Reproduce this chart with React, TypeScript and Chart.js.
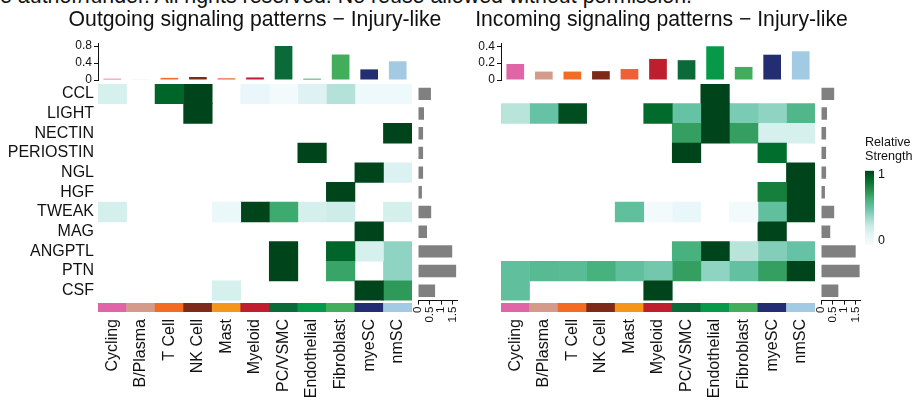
import React, { useEffect, useRef } from "react";
import { Chart, registerables } from "chart.js";

Chart.register(...registerables);

const FONT = '"Liberation Sans", Arial, Helvetica, sans-serif';
Chart.defaults.font.family = FONT;
Chart.defaults.color = "#111";

// ---------------- data ----------------
const cellTypes = ["Cycling", "B/Plasma", "T Cell", "NK Cell", "Mast", "Myeloid", "PC/VSMC", "Endothelial", "Fibroblast", "myeSC", "nmSC"];
const pathways = ["CCL", "LIGHT", "NECTIN", "PERIOSTIN", "NGL", "HGF", "TWEAK", "MAG", "ANGPTL", "PTN", "CSF"];
const cellColors = ["#E065A6", "#D49A8A", "#F26C24", "#7E2A19", "#F4961A", "#BE1E2D", "#0B6B38", "#069A48", "#42AD5B", "#232E72", "#A2CAE2"];
const topBarColors = ["#E065A6", "#D49A8A", "#F26C24", "#7E2A19", "#F15F36", "#BE1E2D", "#0B6B38", "#069A48", "#42AD5B", "#232E72", "#A2CAE2"];

const outgoingTotals = [0.03, 0.01, 0.05, 0.07, 0.04, 0.06, 0.8, 0.03, 0.6, 0.25, 0.44];
const incomingTotals = [0.19, 0.1, 0.1, 0.105, 0.13, 0.25, 0.235, 0.4, 0.155, 0.3, 0.34];

const outgoingPathwayTotals = [0.56, 0.26, 0.22, 0.22, 0.22, 0.17, 0.57, 0.39, 1.48, 1.65, 0.74];
const incomingPathwayTotals = [0.57, 0.26, 0.22, 0.22, 0.22, 0.17, 0.57, 0.4, 1.5, 1.67, 0.75];

// rows = pathways, columns = cell types (relative strength, 0 = none)
const outgoingStrength = [
  [0.2, 0, 0.9, 1, 0, 0.09, 0.03, 0.16, 0.31, 0.06, 0.06],
  [0, 0, 0, 1, 0, 0, 0, 0, 0, 0, 0],
  [0, 0, 0, 0, 0, 0, 0, 0, 0, 0, 1],
  [0, 0, 0, 0, 0, 0, 0, 1, 0, 0, 0],
  [0, 0, 0, 0, 0, 0, 0, 0, 0, 1, 0.17],
  [0, 0, 0, 0, 0, 0, 0, 0, 1, 0, 0],
  [0.21, 0, 0, 0, 0.08, 1, 0.64, 0.21, 0.24, 0, 0.21],
  [0, 0, 0, 0, 0, 0, 0, 0, 0, 1, 0],
  [0, 0, 0, 0, 0, 0, 1, 0, 0.9, 0.2, 0.4],
  [0, 0, 0, 0, 0, 0, 1, 0, 0.66, 0, 0.4],
  [0, 0, 0, 0, 0.2, 0, 0, 0, 0, 1, 0.7],
];
const incomingStrength = [
  [0, 0, 0, 0, 0, 0, 0, 1, 0, 0, 0],
  [0.3, 0.5, 0.97, 0, 0, 0.88, 0.5, 1, 0.45, 0.4, 0.57],
  [0, 0, 0, 0, 0, 0, 0.68, 1, 0.68, 0.2, 0.2],
  [0, 0, 0, 0, 0, 0, 1, 0, 0, 0.87, 0],
  [0, 0, 0, 0, 0, 0, 0, 0, 0, 0, 1],
  [0, 0, 0, 0, 0, 0, 0, 0, 0, 0.8, 1],
  [0, 0, 0, 0, 0.52, 0.03, 0.1, 0, 0.03, 0.52, 1],
  [0, 0, 0, 0, 0, 0, 0, 0, 0, 1, 0],
  [0, 0, 0, 0, 0, 0, 0.6, 1, 0.3, 0.43, 0.5],
  [0.52, 0.55, 0.54, 0.6, 0.52, 0.47, 0.68, 0.4, 0.51, 0.68, 1],
  [0.52, 0, 0, 0, 0, 1, 0, 0, 0, 0, 0],
];

const outgoingTopTicks = [0, 0.4, 0.8];
const incomingTopTicks = [0, 0.2, 0.4];
const rowBarTicks = [0, 0.5, 1, 1.5];
const legendTickLabels = ["0", "1"];

const outgoingTitle = "Outgoing signaling patterns \u2212 Injury-like";
const incomingTitle = "Incoming signaling patterns \u2212 Injury-like";
const watermark = "the author/funder. All rights reserved. No reuse allowed without permission.";

// ---------------- colour map ----------------
const BUGN = ["#F7FCFD", "#E5F5F9", "#CCECE6", "#99D8C9", "#66C2A4", "#41AE76", "#238B45", "#006D2C", "#00441B"];
function hexRgb(h: string) {
  return [parseInt(h.slice(1, 3), 16), parseInt(h.slice(3, 5), 16), parseInt(h.slice(5, 7), 16)];
}
function strengthColor(v: number) {
  if (!v) return "rgba(255,255,255,0)";
  const t = Math.min(1, Math.max(0, v)) * (BUGN.length - 1);
  const i = Math.min(Math.floor(t), BUGN.length - 2);
  const f = t - i;
  const a = hexRgb(BUGN[i]);
  const b = hexRgb(BUGN[i + 1]);
  const c = a.map((x, k) => Math.round(x + (b[k] - x) * f));
  return `rgb(${c[0]},${c[1]},${c[2]})`;
}

// ---------------- helpers ----------------
const fixWidth = (w: number) => (s: any) => {
  s.width = w;
  s.paddingTop = 0;
  s.paddingBottom = 0;
  s.paddingLeft = 0;
  s.paddingRight = 0;
};
const fixHeight = (h: number) => (s: any) => {
  s.height = h;
  s.paddingTop = 0;
  s.paddingBottom = 0;
  s.paddingLeft = 0;
  s.paddingRight = 0;
};
const setTicks = (vals: number[]) => (s: any) => {
  s.ticks = vals.map((value) => ({ value }));
};
const noPlugins = { legend: { display: false }, tooltip: { enabled: false } };

function ChartCanvas({ left, top, width, height, make }: any) {
  const ref = useRef<HTMLCanvasElement>(null);
  useEffect(() => {
    const chart = new Chart(ref.current as HTMLCanvasElement, make());
    return () => chart.destroy();
  }, []);
  return (
    <canvas
      ref={ref}
      width={width}
      height={height}
      style={{ position: "absolute", left, top, width, height }}
    />
  );
}

// ---------------- chart configs ----------------
const TITLE_SIZE = 21.2;

function topBarsConfig(title: string, totals: number[], max: number, ticks: number[], shift: number): any {
  return {
    type: "bar",
    data: {
      labels: cellTypes,
      datasets: [
        {
          data: totals,
          backgroundColor: topBarColors,
          borderWidth: 0,
          barPercentage: 0.62,
          categoryPercentage: 1,
        },
      ],
    },
    options: {
      responsive: false,
      animation: false,
      layout: { padding: { left: 0, right: 0, top: 0, bottom: 4 } },
      plugins: {
        ...noPlugins,
        title: {
          display: true,
          text: title,
          color: "#111",
          font: { size: TITLE_SIZE, weight: "normal", lineHeight: 22.2 / TITLE_SIZE },
          padding: { top: 9.0, bottom: 12.7 },
        },
      },
      scales: {
        x: { display: false },
        y: {
          min: 0,
          max,
          afterBuildTicks: setTicks(ticks),
          afterFit: fixWidth(43),
          ticks: { font: { size: 12 }, color: "#111", padding: 2 },
          grid: { drawOnChartArea: false, drawTicks: true, tickLength: 4, color: "#111" },
          border: { display: true, color: "#111", width: 1 },
        },
        // empty spacer on the right so that the title is centred over the heatmap
        spacer: {
          type: "linear",
          position: "right",
          afterFit: fixWidth(43 + 2 * shift),
          ticks: { display: false },
          grid: { display: false, drawTicks: false },
          border: { display: false },
        },
      },
    },
  };
}

function heatmapConfig(matrix: number[][], showLabels: boolean): any {
  return {
    type: "bar",
    data: {
      labels: pathways,
      datasets: cellTypes.map((ct, j) => ({
        label: ct,
        data: pathways.map(() => 1),
        backgroundColor: matrix.map((row) => strengthColor(row[j])),
        borderWidth: 0,
        barPercentage: 1,
        categoryPercentage: 1,
      })),
    },
    options: {
      indexAxis: "y",
      responsive: false,
      animation: false,
      layout: { padding: { left: 0, right: 3, top: 4, bottom: 4.4 } },
      plugins: noPlugins,
      scales: {
        x: { stacked: true, min: 0, max: cellTypes.length, display: false },
        y: {
          stacked: true,
          afterFit: fixWidth(98),
          grid: { display: false, drawTicks: false },
          border: { display: false },
          ticks: { display: showLabels, font: { size: 16 }, color: "#111", padding: 4, autoSkip: false },
        },
      },
    },
  };
}

function stripConfig(): any {
  return {
    type: "bar",
    data: {
      labels: cellTypes,
      datasets: [
        {
          data: cellTypes.map(() => 1),
          backgroundColor: cellColors,
          borderWidth: 0,
          barPercentage: 1,
          categoryPercentage: 1,
        },
      ],
    },
    options: {
      responsive: false,
      animation: false,
      layout: { padding: { left: 98, right: 3, top: 5, bottom: 0 } },
      plugins: noPlugins,
      scales: {
        y: { display: false, min: 0, max: 1 },
        x: {
          afterFit: fixHeight(90),
          grid: { display: false, drawTicks: false },
          border: { display: false },
          ticks: { font: { size: 16 }, color: "#111", padding: 7, minRotation: 90, maxRotation: 90, autoSkip: false },
        },
      },
    },
  };
}

function rowBarsConfig(totals: number[]): any {
  return {
    type: "bar",
    data: {
      labels: pathways,
      datasets: [
        {
          data: totals,
          backgroundColor: "#808080",
          borderWidth: 0,
          barPercentage: 0.63,
          categoryPercentage: 1,
        },
      ],
    },
    options: {
      indexAxis: "y",
      responsive: false,
      animation: false,
      layout: { padding: { left: 6, right: 14.7, top: 4, bottom: 0 } },
      plugins: noPlugins,
      scales: {
        y: { display: false },
        x: {
          min: 0,
          max: 1.7,
          position: "bottom",
          afterBuildTicks: setTicks(rowBarTicks),
          afterFit: fixHeight(101.4),
          ticks: {
            font: { size: 11.5 },
            color: "#111",
            padding: 2,
            minRotation: 90,
            maxRotation: 90,
            autoSkip: false,
            callback: (v: number) => String(v),
          },
          grid: { drawOnChartArea: false, drawTicks: true, tickLength: 4, color: "#111" },
          border: { display: true, color: "#111", width: 1 },
        },
      },
    },
  };
}

function legendConfig(): any {
  return {
    type: "bar",
    data: {
      labels: [""],
      datasets: [
        {
          data: [1],
          borderWidth: 0,
          barPercentage: 1,
          categoryPercentage: 1,
          backgroundColor: (ctx: any) => {
            const { chart } = ctx;
            const area = chart.chartArea;
            if (!area) return BUGN[4];
            const g = chart.ctx.createLinearGradient(0, area.bottom, 0, area.top);
            BUGN.forEach((c, i) => g.addColorStop(i / (BUGN.length - 1), c));
            return g;
          },
        },
      ],
    },
    options: {
      responsive: false,
      animation: false,
      layout: { padding: { left: 5, right: 0, top: 0, bottom: 10 } },
      plugins: {
        ...noPlugins,
        title: {
          display: true,
          text: ["Relative", "Strength"],
          align: "start",
          color: "#111",
          font: { size: 12.6, weight: "normal", lineHeight: 14 / 12.6 },
          padding: { top: 5.4, bottom: 7.3 },
        },
      },
      scales: {
        x: { display: false },
        y: {
          position: "right",
          min: 0,
          max: 1,
          afterBuildTicks: setTicks([0.057, 0.942]),
          afterFit: fixWidth(49),
          ticks: {
            font: { size: 12.5 },
            color: "#111",
            padding: 4,
            callback: (v: number) => (v < 0.5 ? legendTickLabels[0] : legendTickLabels[1]),
          },
          grid: { display: false, drawTicks: false },
          border: { display: false },
        },
      },
    },
  };
}

function Panel({ ox, title, totals, max, ticks, matrix, rowTotals, showLabels, shift }: any) {
  return (
    <>
      <ChartCanvas
        left={ox + 55}
        top={0}
        width={400 + 2 * shift}
        height={84}
        make={() => topBarsConfig(title, totals, max, ticks, shift)}
      />
      <ChartCanvas left={ox} top={80} width={415} height={225} make={() => heatmapConfig(matrix, showLabels)} />
      <ChartCanvas left={ox} top={298} width={415} height={104} make={() => stripConfig()} />
      <ChartCanvas left={ox + 412} top={80} width={60} height={322} make={() => rowBarsConfig(rowTotals)} />
    </>
  );
}

export default function App() {
  return (
    <div
      style={{
        position: "absolute",
        left: 0,
        top: 0,
        width: 923,
        height: 402,
        overflow: "hidden",
        background: "#fff",
        fontFamily: FONT,
      }}
    >
      <div
        style={{
          position: "absolute",
          right: 231,
          top: -14.5,
          fontSize: 21.4,
          lineHeight: "21.4px",
          whiteSpace: "nowrap",
          color: "#111",
        }}
      >
        {watermark}
      </div>
      <Panel
        ox={0}
        title={outgoingTitle}
        totals={outgoingTotals}
        max={0.85}
        ticks={outgoingTopTicks}
        matrix={outgoingStrength}
        rowTotals={outgoingPathwayTotals}
        showLabels={true}
        shift={0}
      />
      <Panel
        ox={403}
        title={incomingTitle}
        totals={incomingTotals}
        max={0.428}
        ticks={incomingTopTicks}
        matrix={incomingStrength}
        rowTotals={incomingPathwayTotals}
        showLabels={false}
        shift={3.5}
      />
      <ChartCanvas left={860} top={130} width={63} height={125} make={() => legendConfig()} />
    </div>
  );
}
